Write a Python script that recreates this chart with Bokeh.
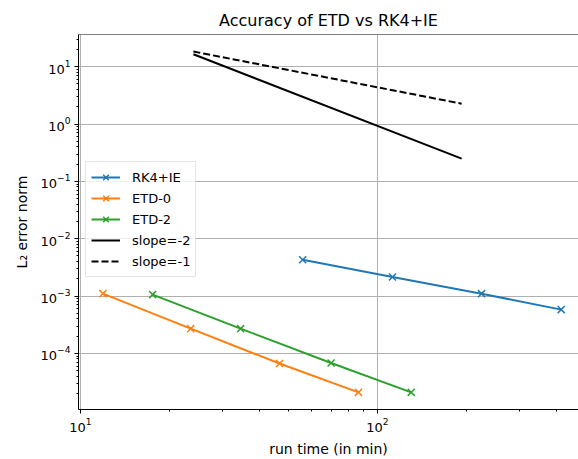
from bokeh.plotting import figure
from bokeh.models import FixedTicker, Span, Legend, LegendItem, Range1d, LogTickFormatter
from bokeh.embed import file_html
from bokeh.resources import INLINE

# ---- data ----
rk4_time = [56.0, 112.3, 224.0, 415.5]
rk4_err = [4.3e-3, 2.15e-3, 1.1e-3, 5.8e-4]
etd0_time = [11.9, 23.5, 46.8, 86.3]
etd0_err = [1.1e-3, 2.7e-4, 6.65e-5, 2.09e-5]
etd2_time = [17.5, 34.6, 69.8, 129.9]
etd2_err = [1.06e-3, 2.7e-4, 6.8e-5, 2.09e-5]
slope_time = [24.0, 192.0]
slope2_err = [16.5, 0.25]
slope1_err = [18.4, 2.27]

x_major_ticks = [10, 100]
x_minor_ticks = [20, 30, 40, 50, 60, 70, 80, 90, 200, 300, 400]
y_major_ticks = [1e-4, 1e-3, 1e-2, 1e-1, 1e0, 1e1]
y_minor_ticks = [m * 10.0 ** e for e in range(-5, 2) for m in range(2, 10)]

FONT = "DejaVu Sans"
BLUE, ORANGE, GREEN = "#1f77b4", "#ff7f0e", "#2ca02c"

p = figure(width=578, height=459, x_axis_type="log", y_axis_type="log",
           x_range=Range1d(9.85, 475.0), y_range=Range1d(1.05e-5, 36.5),
           output_backend="svg", toolbar_location=None,
           min_border_left=78, min_border_top=34, min_border_bottom=47, min_border_right=0)
p.outline_line_color = None

p.title.text = "Accuracy of ETD vs RK4+IE"
p.title.text_font = FONT
p.title.text_font_size = "16px"
p.title.text_font_style = "normal"
p.title.text_color = "black"
p.title.align = "center"
p.title.offset = 7

for ax, maj, mnr in ((p.xaxis[0], x_major_ticks, x_minor_ticks), (p.yaxis[0], y_major_ticks, y_minor_ticks)):
    ax.ticker = FixedTicker(ticks=maj, minor_ticks=mnr)
    ax.formatter = LogTickFormatter()
    ax.major_label_text_font = FONT
    ax.major_label_text_font_size = "13px"
    ax.major_label_text_color = "black"
    ax.axis_label_text_font = FONT
    ax.axis_label_text_font_size = "14px"
    ax.axis_label_text_font_style = "normal"
    ax.axis_label_text_color = "black"
    ax.axis_line_color = "black"
    ax.major_tick_line_color = "black"
    ax.minor_tick_line_color = "black"
    ax.major_tick_out = 4
    ax.major_tick_in = 0
    ax.minor_tick_out = 2
    ax.minor_tick_in = 0
    ax.major_label_standoff = 4

p.xaxis.axis_label = "run time (in min)"
p.yaxis.axis_label = "L\u2082 error norm"
p.xaxis.axis_label_standoff = 6
p.yaxis.axis_label_standoff = 8

p.xgrid.ticker = FixedTicker(ticks=x_major_ticks)
p.ygrid.ticker = FixedTicker(ticks=y_major_ticks)
for g in (p.xgrid[0], p.ygrid[0]):
    g.grid_line_color = "#b0b0b0"
    g.grid_line_width = 1

p.add_layout(Span(location=36.5, dimension="width", line_color="black", line_width=1))

items = []
for label, xs, ys, col in (("RK4+IE", rk4_time, rk4_err, BLUE),
                           ("ETD-0", etd0_time, etd0_err, ORANGE),
                           ("ETD-2", etd2_time, etd2_err, GREEN)):
    lr = p.line(xs, ys, line_color=col, line_width=2)
    sr = p.scatter(xs, ys, marker="x", size=10, line_color=col, line_width=1.5)
    items.append(LegendItem(label=label, renderers=[lr, sr]))

l2 = p.line(slope_time, slope2_err, line_color="black", line_width=2)
l1 = p.line(slope_time, slope1_err, line_color="black", line_width=2, line_dash="7 3")
items.append(LegendItem(label="slope=-2", renderers=[l2]))
items.append(LegendItem(label="slope=-1", renderers=[l1]))

legend = Legend(items=items, location=(7, 132), label_text_font=FONT, label_text_font_size="13px",
                label_text_color="black",
                glyph_width=29, glyph_height=20, label_height=20, spacing=1, padding=5, margin=0,
                label_standoff=12, border_line_color="#cccccc", border_line_width=1,
                background_fill_color="white", background_fill_alpha=0.8)
p.add_layout(legend)

open("out.html", "w").write(file_html(p, INLINE))
